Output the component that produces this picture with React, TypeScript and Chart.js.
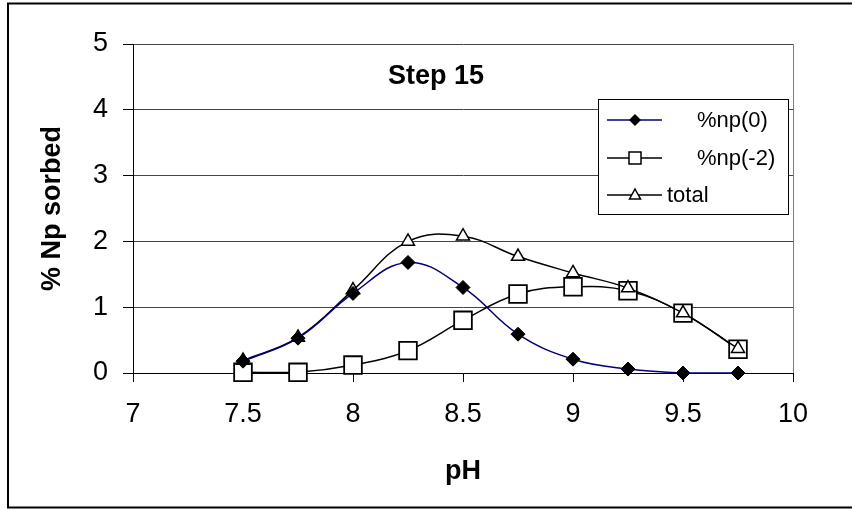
import React, { useEffect, useRef } from "react";
import { Chart, registerables } from "chart.js";

Chart.register(...registerables);

const phValues = [7.5, 7.75, 8, 8.25, 8.5, 8.75, 9, 9.25, 9.5, 9.75];
const np0Values = [0.18, 0.53, 1.21, 1.68, 1.3, 0.59, 0.21, 0.06, 0.0, 0.0];
const npm2Values = [0.01, 0.01, 0.12, 0.34, 0.8, 1.2, 1.31, 1.25, 0.91, 0.36];
const totalValues = [0.19, 0.54, 1.26, 2.0, 2.08, 1.77, 1.52, 1.29, 0.91, 0.37];

const seriesNames = ["%np(0)", "%np(-2)", "total"];
const chartTitle = "Step 15";
const xTitle = "pH";
const yTitle = "% Np sorbed";

const FONT = "'Liberation Sans', Arial, sans-serif";

const toPoints = (ys: number[]) => phValues.map((x, i) => ({ x, y: ys[i] }));

const decorPlugin = {
  id: "decor",
  afterDraw(chart: any) {
    const { ctx, chartArea } = chart;
    ctx.save();
    // outer frame
    ctx.strokeStyle = "#000";
    ctx.lineWidth = 2;
    ctx.beginPath();
    ctx.moveTo(852, 3.5);
    ctx.lineTo(8, 3.5);
    ctx.lineTo(8, 507.5);
    ctx.lineTo(852, 507.5);
    ctx.stroke();

    // plot area right border
    ctx.strokeStyle = "#808080";
    ctx.lineWidth = 1;
    ctx.beginPath();
    ctx.moveTo(Math.round(chartArea.right) + 0.5, chartArea.top);
    ctx.lineTo(Math.round(chartArea.right) + 0.5, chartArea.bottom);
    ctx.stroke();

    // title
    ctx.fillStyle = "#000";
    ctx.font = `bold 27px ${FONT}`;
    ctx.textAlign = "center";
    ctx.textBaseline = "middle";
    ctx.fillText(chartTitle, 436, 77);

    // legend
    const lx = 598.5, ly = 99.5, lw = 190, lh = 115;
    ctx.fillStyle = "#fff";
    ctx.fillRect(lx, ly, lw, lh);
    ctx.strokeStyle = "#000";
    ctx.lineWidth = 1;
    ctx.strokeRect(lx, ly, lw, lh);

    const rows = [120, 158, 195];
    const lineColors = ["#000080", "#000", "#000"];
    const textX = [697, 697, 667];
    ctx.font = `22px ${FONT}`;
    ctx.textAlign = "left";
    rows.forEach((ry, i) => {
      ctx.strokeStyle = lineColors[i];
      ctx.lineWidth = 1.5;
      ctx.beginPath();
      ctx.moveTo(607, ry);
      ctx.lineTo(662, ry);
      ctx.stroke();
      const mx = 635;
      ctx.lineWidth = 1.5;
      ctx.strokeStyle = "#000";
      if (i === 0) {
        ctx.fillStyle = "#000";
        ctx.beginPath();
        ctx.moveTo(mx - 6, ry);
        ctx.lineTo(mx, ry - 6);
        ctx.lineTo(mx + 6, ry);
        ctx.lineTo(mx, ry + 6);
        ctx.closePath();
        ctx.fill();
      } else if (i === 1) {
        ctx.fillStyle = "#fff";
        ctx.fillRect(mx - 6, ry - 6, 12, 12);
        ctx.strokeRect(mx - 6, ry - 6, 12, 12);
      } else {
        ctx.fillStyle = "#fff";
        ctx.beginPath();
        ctx.moveTo(mx, ry - 6);
        ctx.lineTo(mx + 5.5, ry + 4);
        ctx.lineTo(mx - 5.5, ry + 4);
        ctx.closePath();
        ctx.fill();
        ctx.stroke();
      }
      ctx.fillStyle = "#000";
      ctx.fillText(seriesNames[i], textX[i], ry + 1);
    });
    ctx.restore();
  },
};

export default function App() {
  const ref = useRef<HTMLCanvasElement | null>(null);
  useEffect(() => {
    if (!ref.current) return;
    const chart = new Chart(ref.current, {
      type: "line",
      data: {
        datasets: [
          {
            label: seriesNames[0],
            data: toPoints(np0Values),
            borderColor: "#000080",
            borderWidth: 1.5,
            pointStyle: "rectRot",
            pointRadius: 7,
            pointBackgroundColor: "#000",
            pointBorderColor: "#000",
            pointBorderWidth: 1,
            tension: 0.4,
            clip: false,
            order: 0,
          },
          {
            label: seriesNames[1],
            data: toPoints(npm2Values),
            borderColor: "#000",
            borderWidth: 1.5,
            pointStyle: "rect",
            pointRadius: 12.5,
            pointBackgroundColor: "#fff",
            pointBorderColor: "#000",
            pointBorderWidth: 1.8,
            tension: 0.4,
            clip: false,
            order: 2,
          },
          {
            label: seriesNames[2],
            data: toPoints(totalValues),
            borderColor: "#000",
            borderWidth: 1.5,
            pointStyle: "triangle",
            pointRadius: 7.5,
            pointBackgroundColor: "#fff",
            pointBorderColor: "#000",
            pointBorderWidth: 1.5,
            tension: 0.4,
            clip: false,
            order: 1,
          },
        ],
      },
      options: {
        animation: false,
        responsive: false,
        devicePixelRatio: 1,
        layout: { padding: { left: 0, right: 59, top: 44, bottom: 0 } },
        plugins: {
          legend: { display: false },
          tooltip: { enabled: false },
          title: { display: false },
        },
        scales: {
          x: {
            type: "linear",
            min: 7,
            max: 10,
            afterFit: (s: any) => {
              s.height = 137;
            },
            ticks: {
              stepSize: 0.5,
              color: "#000",
              font: { family: FONT, size: 27 },
              padding: 16,
              maxRotation: 0,
              callback: (v: any) => String(Number(v)),
            },
            grid: {
              drawOnChartArea: false,
              drawTicks: true,
              tickLength: 9,
              tickColor: "#000",
              color: "#000",
            },
            border: { color: "#000", width: 1 },
            title: {
              display: true,
              text: xTitle,
              color: "#000",
              font: { family: FONT, size: 27, weight: "bold" },
              padding: { top: 0, bottom: 22 },
            },
          },
          y: {
            min: 0,
            max: 5,
            afterFit: (s: any) => {
              s.width = 133;
            },
            ticks: {
              stepSize: 1,
              color: "#000",
              font: { family: FONT, size: 27 },
              padding: 15,
              callback: (v: any) => String(Number(v)),
            },
            grid: {
              drawOnChartArea: true,
              drawTicks: true,
              tickLength: 10,
              tickColor: "#000",
              color: "#444",
            },
            border: { color: "#000", width: 1 },
            title: {
              display: true,
              text: yTitle,
              color: "#000",
              font: { family: FONT, size: 27, weight: "bold" },
              padding: { top: 36, bottom: 0 },
            },
          },
        },
      },
      plugins: [decorPlugin],
    });
    return () => chart.destroy();
  }, []);
  return (
    <div style={{ position: "absolute", left: 0, top: 0, width: 852, height: 510, background: "#fff" }}>
      <canvas ref={ref} width={852} height={510} style={{ display: "block" }} />
    </div>
  );
}
